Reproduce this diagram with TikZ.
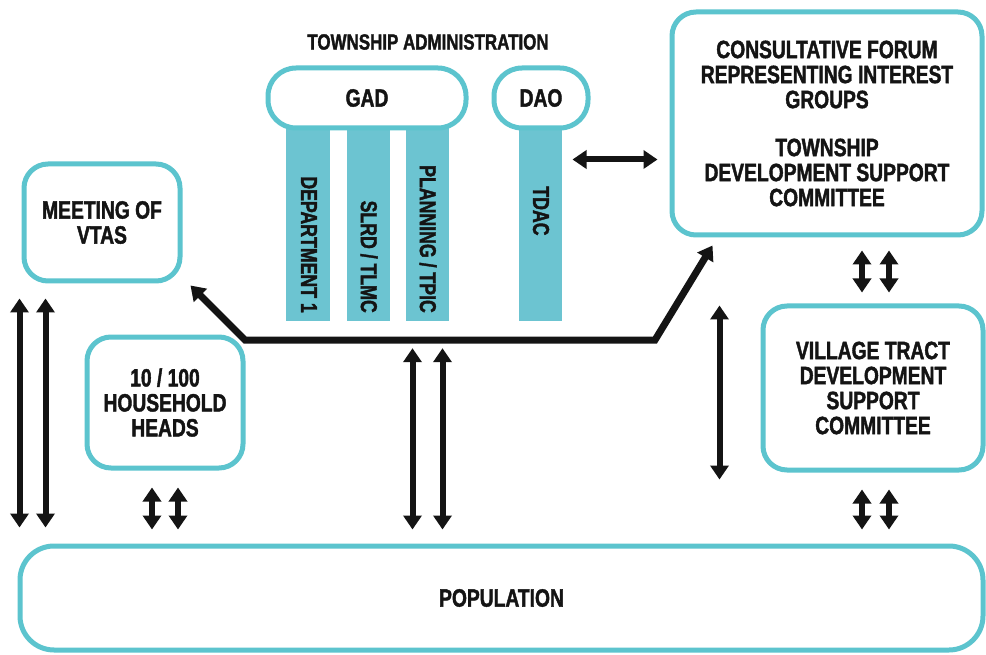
\documentclass[tikz,border=0pt]{standalone}
\usepackage{fontspec}
\newfontfamily\dinf[FakeStretch=0.77,BoldFeatures={FakeBold=1.6}]{Liberation Sans}
\usetikzlibrary{arrows.meta,calc}
\definecolor{teal1}{RGB}{92,196,206}
\definecolor{barfill}{RGB}{108,196,209}
\definecolor{ink}{RGB}{20,20,20}
\begin{document}
\begin{tikzpicture}[x=1pt,y=-1pt,
  >={Triangle[width=18pt,length=14pt]},
  every node/.style={text=ink,align=center,font=\dinf\bfseries\fontsize{25pt}{25pt}\selectfont},
  box/.style={draw=teal1,line width=5pt,rounded corners=24pt,fill=white,inner sep=0pt},
  pill/.style={box,rounded corners=28pt},
  bar/.style={fill=barfill,inner sep=0pt,minimum height=193pt},
  bartxt/.style={rotate=-90,inner sep=0pt,font=\dinf\bfseries\fontsize{23pt}{23pt}\selectfont},
  dbl/.style={draw=ink,line width=6pt,<->},
  bigline/.style={draw=ink,line width=7pt,<->,line join=miter}]
\useasboundingbox[fill=white] (0,0) rectangle (986,655);

% title
\node[font=\dinf\bfseries\fontsize{22pt}{22pt}\selectfont] (title) at (428,42) {TOWNSHIP ADMINISTRATION};

% bars
\node[bar,minimum width=44pt] (dep)  at (308,224.5) {};
\node[bar,minimum width=43pt] (slrd) at (368.5,224.5) {};
\node[bar,minimum width=43pt] (plan) at (427.5,224.5) {};
\node[bar,minimum width=43pt] (tdac) at (540.5,224.5) {};
\node[bartxt,anchor=east] (depT)  at (309,313) {DEPARTMENT 1};
\node[bartxt,anchor=east] (slrdT) at (369,313) {SLRD / TLMC};
\node[bartxt,anchor=east] (planT) at (428,313) {PLANNING / TPIC};
\node[bartxt] (tdacT) at (541,211) {TDAC};

% boxes
\node[pill,minimum width=198pt,minimum height=60pt] (gad) at (367,98) {GAD};
\node[pill,minimum width=94pt,minimum height=60pt] (dao) at (541,98) {DAO};
\node[box,minimum width=156pt,minimum height=117pt] (vtas) at (102,222.5) {MEETING OF\\VTAS};
\node[box,minimum width=156pt,minimum height=131pt] (hh) at (165,402.5) {10 / 100\\HOUSEHOLD\\HEADS};
\node[box,minimum width=310pt,minimum height=223pt] (forum) at (827,123.5)
  {CONSULTATIVE FORUM\\REPRESENTING INTEREST\\GROUPS\\[23pt]TOWNSHIP\\DEVELOPMENT SUPPORT\\COMMITTEE};
\node[box,minimum width=220pt,minimum height=164pt] (vt) at (873,388)
  {VILLAGE TRACT\\DEVELOPMENT\\SUPPORT\\COMMITTEE};
\node[box,rounded corners=34pt,minimum width=963pt,minimum height=104pt] (pop) at (501.5,598) {POPULATION};

% bent connector
\coordinate (bendL) at (245,340);
\coordinate (bendR) at (655,340);
\draw[bigline] ($(vtas.south east)+(8,2)$) -- (bendL) -- (bendR) -- ($(forum.south west)+(43,8)$);

% horizontal arrow DAO/TDAC <-> forum
\draw[dbl] ($(forum.west)+(-97,36)$) -- ($(forum.west)+(-12,36)$);

% left long arrows VTAS <-> population
\draw[dbl] ($(vtas.south west)+(-2,15)$) -- ($(vtas.south west |- pop.north)+(-2,-16)$);
\draw[dbl] ($(vtas.south west)+(24,15)$) -- ($(vtas.south west |- pop.north)+(24,-16)$);

% household heads <-> population
\draw[dbl] ($(hh.south)+(-13,17)$) -- ($(hh.south |- pop.north)+(-13,-14)$);
\draw[dbl] ($(hh.south)+(13,17)$) -- ($(hh.south |- pop.north)+(13,-14)$);

% administration line <-> population
\draw[dbl] ($(plan.south)+(-15,27)$) -- ($(plan.south |- pop.north)+(-15,-14)$);
\draw[dbl] ($(plan.south)+(15,27)$) -- ($(plan.south |- pop.north)+(15,-14)$);

% right single vertical arrow
\draw[dbl] ($(forum.south west)+(50,68)$) -- ($(forum.south west |- pop.north)+(50,-64)$);

% forum <-> village tract
\draw[dbl] ($(vt.north |- forum.south)+(-11,13)$) -- ($(vt.north)+(-11,-11)$);
\draw[dbl] ($(vt.north |- forum.south)+(16,13)$) -- ($(vt.north)+(16,-11)$);

% village tract <-> population
\draw[dbl] ($(vt.south)+(-11,17)$) -- ($(vt.south |- pop.north)+(-11,-14)$);
\draw[dbl] ($(vt.south)+(16,17)$) -- ($(vt.south |- pop.north)+(16,-14)$);
\end{tikzpicture}
\end{document}
